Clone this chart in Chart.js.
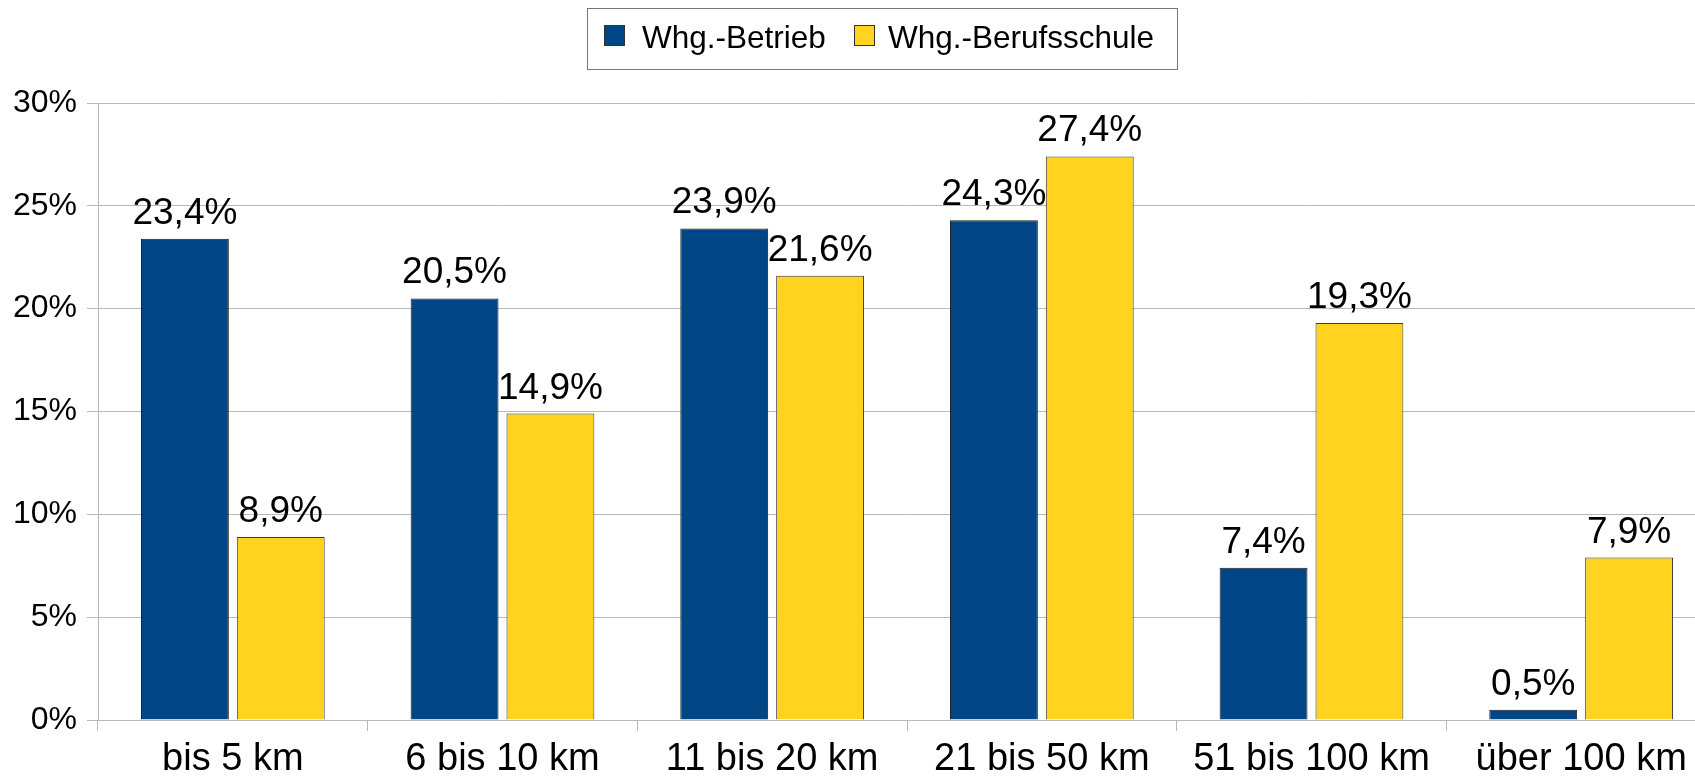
<!DOCTYPE html>
<html>
<head>
<meta charset="utf-8">
<script src="https://cdn.jsdelivr.net/npm/chart.js@4/dist/chart.umd.min.js"></script>
<style>
  html, body { margin: 0; padding: 0; background: #fff; overflow: hidden; }
  #wrap { width: 1716px; height: 776px; }
</style>
</head>
<body>
<div id="wrap"><canvas id="c" width="1716" height="776"></canvas></div>
<script>
const categories = ["bis 5 km", "6 bis 10 km", "11 bis 20 km", "21 bis 50 km", "51 bis 100 km", "über 100 km"];
const seriesNames = ["Whg.-Betrieb", "Whg.-Berufsschule"];
const betrieb = [23.4, 20.5, 23.9, 24.3, 7.4, 0.5];
const berufsschule = [8.9, 14.9, 21.6, 27.4, 19.3, 7.9];
const yTicks = [0, 5, 10, 15, 20, 25, 30];

const FONT = "'Liberation Sans', Arial, sans-serif";
const GRID = "#b8b8b8";
const colors = ["#004586", "#ffd320"];

function fmt(v) { return v.toFixed(1).replace('.', ',') + '%'; }

const valueLabels = {
  id: 'valueLabels',
  afterDatasetsDraw(chart) {
    const ctx = chart.ctx;
    ctx.save();
    ctx.font = "37px " + FONT;
    ctx.fillStyle = "#000";
    ctx.textAlign = "center";
    ctx.textBaseline = "alphabetic";
    chart.data.datasets.forEach((ds, di) => {
      const meta = chart.getDatasetMeta(di);
      meta.data.forEach((bar, i) => {
        ctx.fillText(fmt(ds.data[i]), bar.x, bar.y - 15);
      });
    });
    ctx.restore();
  }
};

const boxLegend = {
  id: 'boxLegend',
  afterDraw(chart) {
    const ctx = chart.ctx;
    ctx.save();
    ctx.strokeStyle = "#777";
    ctx.lineWidth = 1;
    ctx.strokeRect(587.5, 8.5, 590, 61);
    const sw = [604, 854];
    const tx = [642, 888];
    ctx.font = "31.5px " + FONT;
    ctx.textBaseline = "alphabetic";
    ctx.textAlign = "left";
    chart.data.datasets.forEach((ds, i) => {
      ctx.fillStyle = ds.backgroundColor;
      ctx.fillRect(sw[i], 25, 21, 21);
      ctx.strokeStyle = "#333";
      ctx.strokeRect(sw[i] + 0.5, 25.5, 20, 20);
      ctx.fillStyle = "#000";
      ctx.fillText(ds.label, tx[i], 48);
    });
    ctx.restore();
  }
};

new Chart(document.getElementById('c'), {
  type: 'bar',
  data: {
    labels: categories,
    datasets: [
      { label: seriesNames[0], data: betrieb, backgroundColor: colors[0], borderColor: "#1a1a1a", borderWidth: 1,
        categoryPercentage: 0.711, barPercentage: 0.9167 },
      { label: seriesNames[1], data: berufsschule, backgroundColor: colors[1], borderColor: "#3a3a3a", borderWidth: 1,
        categoryPercentage: 0.711, barPercentage: 0.9167 }
    ]
  },
  options: {
    responsive: false,
    animation: false,
    devicePixelRatio: 1,
    layout: { padding: { top: 103, right: 0, left: 0, bottom: 0 } },
    plugins: {
      legend: { display: false },
      tooltip: { enabled: false }
    },
    scales: {
      x: {
        grid: { display: true, drawOnChartArea: false, drawTicks: true, tickLength: 11, color: GRID, offset: true },
        border: { display: true, color: GRID, width: 1 },
        ticks: { color: "#000", font: { family: FONT, size: 38 }, padding: 6, maxRotation: 0, autoSkip: false },
        afterFit(axis) { axis.height = 56; }
      },
      y: {
        min: 0, max: 30,
        afterBuildTicks(axis) { axis.ticks = yTicks.map(v => ({ value: v })); },
        grid: { color: GRID, tickLength: 11, drawTicks: true },
        border: { display: true, color: GRID, width: 1 },
        ticks: { color: "#000", font: { family: FONT, size: 32 }, padding: 10, callback: v => v + '%' },
        afterFit(axis) { axis.width = 98; }
      }
    }
  },
  plugins: [valueLabels, boxLegend]
});
</script>
</body>
</html>
